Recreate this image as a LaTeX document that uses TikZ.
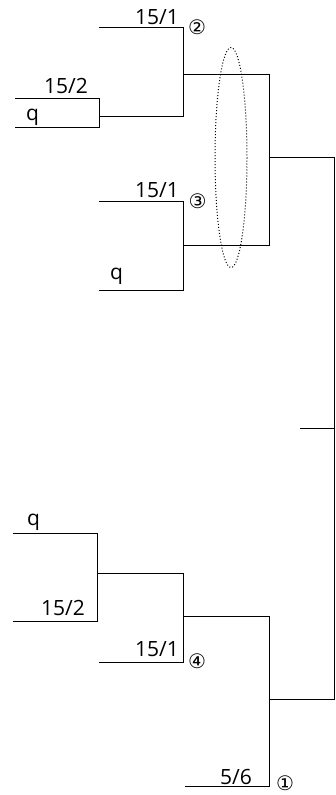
\documentclass[tikz,border=0pt]{standalone}
\usepackage{fontspec}
\setmainfont{Open Sans}
\newfontfamily\circfont{DejaVu Sans}
\usetikzlibrary{positioning}
\tikzset{
  branch/.style={line width=1pt,black,line join=miter},
  score/.style={inner sep=0pt,anchor=base east,font=\fontsize{21}{24}\selectfont},
  player/.style={inner sep=0pt,anchor=base west,font=\fontsize{21}{24}\selectfont},
  seed/.style={inner sep=0pt,anchor=center,font=\circfont\fontsize{20}{24}\selectfont},
  pickring/.style={dotted,line width=1pt}
}
\begin{document}
\begin{tikzpicture}[x=1pt,y=-1pt]
  \useasboundingbox (0,0) rectangle (335,795);
  \coordinate (m2) at (99,27);   \coordinate (e2) at (183,27);
  \coordinate (qa) at (15,98);   \coordinate (qb) at (99,98);
  \coordinate (qc) at (99,127);  \coordinate (qd) at (15,127);
  \coordinate (qo) at (99,116);  \coordinate (qi) at (183,116);
  \coordinate (k2) at (183,74);  \coordinate (u2) at (269,74);
  \coordinate (m3) at (99,201);  \coordinate (e3) at (183,201);
  \coordinate (q3) at (99,290);  \coordinate (f3) at (183,290);
  \coordinate (k3) at (183,245); \coordinate (u3) at (269,245);
  \coordinate (kt) at (269,157); \coordinate (rt) at (334,157);
  \coordinate (lm) at (300,428); \coordinate (rm) at (334,428);
  \coordinate (rb) at (334,699); \coordinate (kb) at (269,699);
  \coordinate (qx) at (13,533);  \coordinate (qy) at (97,533);
  \coordinate (hx) at (13,621);  \coordinate (hy) at (97,621);
  \coordinate (k5) at (97,573);  \coordinate (u5) at (183,573);
  \coordinate (m4) at (99,662);  \coordinate (e4) at (183,662);
  \coordinate (k4) at (183,616); \coordinate (u4) at (269,616);
  \coordinate (m1) at (185,786); \coordinate (e1) at (269,786);
  \draw[branch] (m2) -- (e2) -- (qi) -- (qo);
  \draw[branch] (qa) -- (qb) -- (qc) -- (qd);
  \draw[branch] (k2) -- (u2) -- (u3) -- (k3);
  \draw[branch] (m3) -- (e3) -- (f3) -- (q3);
  \draw[branch] (kt) -- (rt) -- (rb) -- (kb);
  \draw[branch] (lm) -- (rm);
  \draw[branch] (qx) -- (qy) -- (hy) -- (hx);
  \draw[branch] (k5) -- (u5) -- (e4) -- (m4);
  \draw[branch] (k4) -- (u4) -- (e1) -- (m1);
  \draw[pickring] (231,157.5) ellipse [x radius=16,y radius=110];
  \node[score] (t2) at (179,24) {15/1};
  \node[score] (tb) at (88,93) {15/2};
  \node[player] (pa) at (26,120) {q};
  \node[score] (t3) at (179,197.5) {15/1};
  \node[player] (pb) at (110,279) {q};
  \node[player] (pc) at (27,525) {q};
  \node[score] (tc) at (85,615.5) {15/2};
  \node[score] (t4) at (179,656) {15/1};
  \node[score] (t1) at (252,784) {5/6};
  \node[seed] (n2) at (197,27) {②};
  \node[seed] (n3) at (197.5,201) {③};
  \node[seed] (n4) at (197,661) {④};
  \node[seed] (n1) at (285,783.5) {①};
\end{tikzpicture}
\end{document}
